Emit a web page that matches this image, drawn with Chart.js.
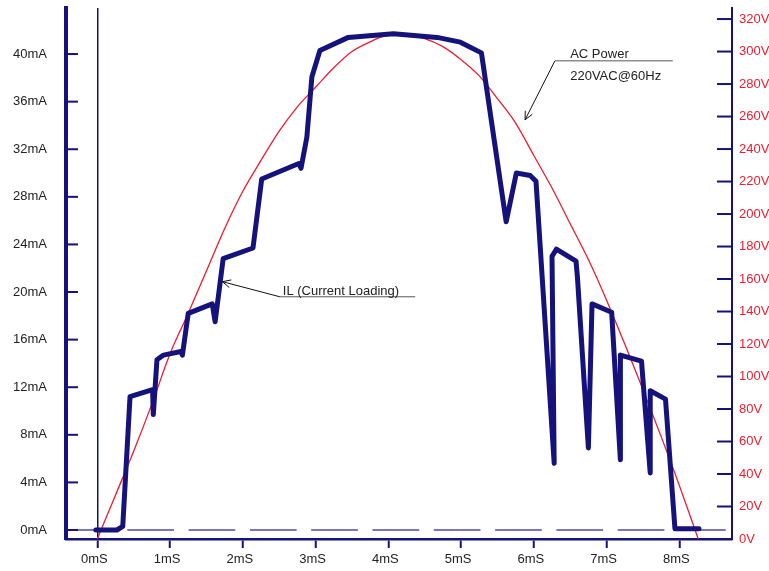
<!DOCTYPE html>
<html>
<head>
<meta charset="utf-8">
<title>IL vs AC Power</title>
<script src="https://cdn.jsdelivr.net/npm/chart.js@4.4.0/dist/chart.umd.min.js"></script>
<style>
  body { margin: 0; background: #fff; }
  canvas { display: block; }
</style>
</head>
<body>
<canvas id="myChart" width="769" height="571"></canvas>
<script>
// axis ticks
const timeTicks = [0, 1, 2, 3, 4, 5, 6, 7, 8]                       // mS
const currentTicks = [0, 4, 8, 12, 16, 20, 24, 28, 32, 36, 40]        // mA
const voltTicks = [0, 20, 40, 60, 80, 100, 120, 140, 160, 180, 200, 220, 240, 260, 280, 300, 320]  // V

// IL (Current Loading)
const ilTime = [-0.02, 0.27, 0.35, 0.45, 0.76, 0.77, 0.82, 0.91, 1.15, 1.17, 1.25, 1.58, 1.62, 1.73, 2.14, 2.26,
    2.77, 2.80, 2.88, 2.95, 3.06, 3.45, 4.07, 4.67, 4.99, 5.28, 5.62, 5.76, 5.95, 6.03, 6.28, 6.25, 6.31, 6.58,
    6.60, 6.75, 6.80, 7.07, 7.19, 7.19, 7.48, 7.60, 7.60, 7.81, 7.94, 8.27]
const ilCurrent = [0, 0, 0.3, 11.2, 11.8, 9.7, 14.3, 14.7, 15.0, 14.7, 18.2, 19.0, 17.5, 22.8, 23.7, 29.5,
    30.8, 30.4, 33.0, 38.1, 40.3, 41.4, 41.7, 41.4, 41.0, 40.1, 25.9, 30.0, 29.8, 29.3, 5.6, 23.0, 23.6, 22.6,
    21.2, 6.9, 19.0, 18.3, 5.9, 14.7, 14.2, 4.8, 11.7, 11.0, 0.1, 0.1]

// AC Power 220VAC@60Hz, one half cycle
const acTime = [0, 0.25, 0.5, 0.75, 1.0, 1.25, 1.5, 1.75, 2.0, 2.25, 2.5, 2.75, 3.0, 3.25, 3.5, 3.75, 4.0,
    4.25, 4.5, 4.75, 5.0, 5.25, 5.5, 5.75, 6.0, 6.25, 6.5, 6.75, 7.0, 7.25, 7.5, 7.75, 8.0, 8.26]
const acVolts = [0, 27, 54, 83, 114, 139, 165, 191, 214, 233, 251, 266, 278, 290, 300, 306, 310,
    310, 308, 303, 295, 285, 271, 256, 236, 216, 194, 172, 147, 120, 92, 63, 33, 0]

const navy = '#15127c'
const red = '#ee1b2e'
const txt = '#222222'
const fontFace = "'Liberation Sans', Arial, sans-serif"

function arrow(ctx, x0, y0, x1, y1) {
    ctx.beginPath()
    ctx.moveTo(x0, y0)
    ctx.lineTo(x1, y1)
    const a = Math.atan2(y1 - y0, x1 - x0)
    const len = 9
    ctx.moveTo(x1 - len * Math.cos(a - 0.45), y1 - len * Math.sin(a - 0.45))
    ctx.lineTo(x1, y1)
    ctx.lineTo(x1 - len * Math.cos(a + 0.45), y1 - len * Math.sin(a + 0.45))
    ctx.stroke()
}

// inside tick marks + the two callouts
const extras = {
    id: 'extras',
    afterDraw(chart) {
        const {ctx, chartArea, scales} = chart
        const x = scales.x, yl = scales.y, yr = scales.y1
        ctx.save()
        ctx.strokeStyle = navy
        ctx.lineWidth = 2
        currentTicks.forEach(v => {
            const py = yl.getPixelForValue(v)
            ctx.beginPath(); ctx.moveTo(chartArea.left, py); ctx.lineTo(chartArea.left + 12, py); ctx.stroke()
        })
        voltTicks.forEach(v => {
            const py = yr.getPixelForValue(v)
            ctx.beginPath(); ctx.moveTo(chartArea.right - 15, py); ctx.lineTo(chartArea.right, py); ctx.stroke()
        })

        ctx.font = '13px ' + fontFace
        ctx.fillStyle = txt
        ctx.textBaseline = 'alphabetic'

        // AC Power callout
        let uy = yl.getPixelForValue(39.43)
        ctx.strokeStyle = '#555'
        ctx.lineWidth = 1
        ctx.beginPath(); ctx.moveTo(x.getPixelForValue(6.29), uy); ctx.lineTo(x.getPixelForValue(7.91), uy); ctx.stroke()
        ctx.strokeStyle = '#111'
        arrow(ctx, x.getPixelForValue(6.29), uy, x.getPixelForValue(5.88), yr.getPixelForValue(258))
        ctx.fillText('AC Power', x.getPixelForValue(6.5), yl.getPixelForValue(39.7))
        ctx.fillText('220VAC@60Hz', x.getPixelForValue(6.5), yl.getPixelForValue(37.8))

        // IL callout
        uy = yl.getPixelForValue(19.6)
        ctx.strokeStyle = '#555'
        ctx.beginPath(); ctx.moveTo(x.getPixelForValue(2.51), uy); ctx.lineTo(x.getPixelForValue(4.37), uy); ctx.stroke()
        ctx.strokeStyle = '#111'
        arrow(ctx, x.getPixelForValue(2.51), uy, x.getPixelForValue(1.72), yl.getPixelForValue(20.87))
        ctx.fillText('IL (Current Loading)', x.getPixelForValue(2.55), yl.getPixelForValue(19.75))
        ctx.restore()
    }
}

const ctx = document.getElementById('myChart').getContext('2d')

const myChart = new Chart(ctx, {
    type: 'line',
    data: {
        datasets: [{
            label: 'IL (Current Loading)',
            data: ilTime.map((t, i) => ({x: t, y: ilCurrent[i]})),
            yAxisID: 'y',
            borderColor: navy,
            borderWidth: 5,
            borderJoinStyle: 'round',
            borderCapStyle: 'round',
            pointRadius: 0,
            tension: 0,
            order: 0
        }, {
            label: 'AC Power',
            data: acTime.map((t, i) => ({x: t, y: acVolts[i]})),
            yAxisID: 'y1',
            borderColor: red,
            borderWidth: 1.3,
            pointRadius: 0,
            cubicInterpolationMode: 'monotone',
            order: 1
        }, {
            label: 'zero',
            data: [{x: -0.43, y: 0}, {x: 8.724, y: 0}],
            yAxisID: 'y',
            borderColor: '#7a76c4',
            borderWidth: 2.2,
            borderDash: [46.7, 14.6],
            pointRadius: 0,
            order: 2
        }]
    },
    options: {
        responsive: false,
        animation: false,
        devicePixelRatio: 1,
        layout: {padding: {top: 8, left: 0, right: 0, bottom: 0}},
        plugins: {
            legend: {display: false},
            tooltip: {enabled: false}
        },
        scales: {
            x: {
                type: 'linear',
                min: -0.43,
                max: 8.724,
                afterBuildTicks: s => { s.ticks = timeTicks.map(v => ({value: v})) },
                afterFit: s => { s.height = 32; s.paddingLeft = 0; s.paddingRight = 0 },
                ticks: {
                    callback: v => v + 'mS',
                    color: txt,
                    font: {family: fontFace, size: 13},
                    padding: 4,
                    labelOffset: -3,
                    maxRotation: 0
                },
                grid: {
                    color: c => (c.tick && c.tick.value === 0) ? navy : 'rgba(0,0,0,0)',
                    lineWidth: 1.5,
                    tickColor: navy,
                    tickLength: 9,
                    tickWidth: 2
                },
                border: {display: true, color: navy, width: 2.5}
            },
            y: {
                position: 'left',
                min: -0.756,
                max: 43.87,
                afterBuildTicks: s => { s.ticks = currentTicks.map(v => ({value: v})) },
                afterFit: s => { s.width = 66; s.paddingTop = 0; s.paddingBottom = 0 },
                ticks: {
                    callback: v => v + 'mA',
                    color: txt,
                    font: {family: fontFace, size: 13},
                    padding: 19
                },
                grid: {drawOnChartArea: false, drawTicks: false},
                border: {display: true, color: navy, width: 4}
            },
            y1: {
                position: 'right',
                min: 0,
                max: 326.8,
                afterBuildTicks: s => { s.ticks = voltTicks.map(v => ({value: v})) },
                afterFit: s => { s.width = 37; s.paddingTop = 0; s.paddingBottom = 0 },
                ticks: {
                    callback: v => v + 'V',
                    color: red,
                    font: {family: fontFace, size: 13},
                    padding: 7
                },
                grid: {drawOnChartArea: false, drawTicks: false},
                border: {display: true, color: navy, width: 2}
            }
        }
    },
    plugins: [extras]
})
</script>
</body>
</html>
